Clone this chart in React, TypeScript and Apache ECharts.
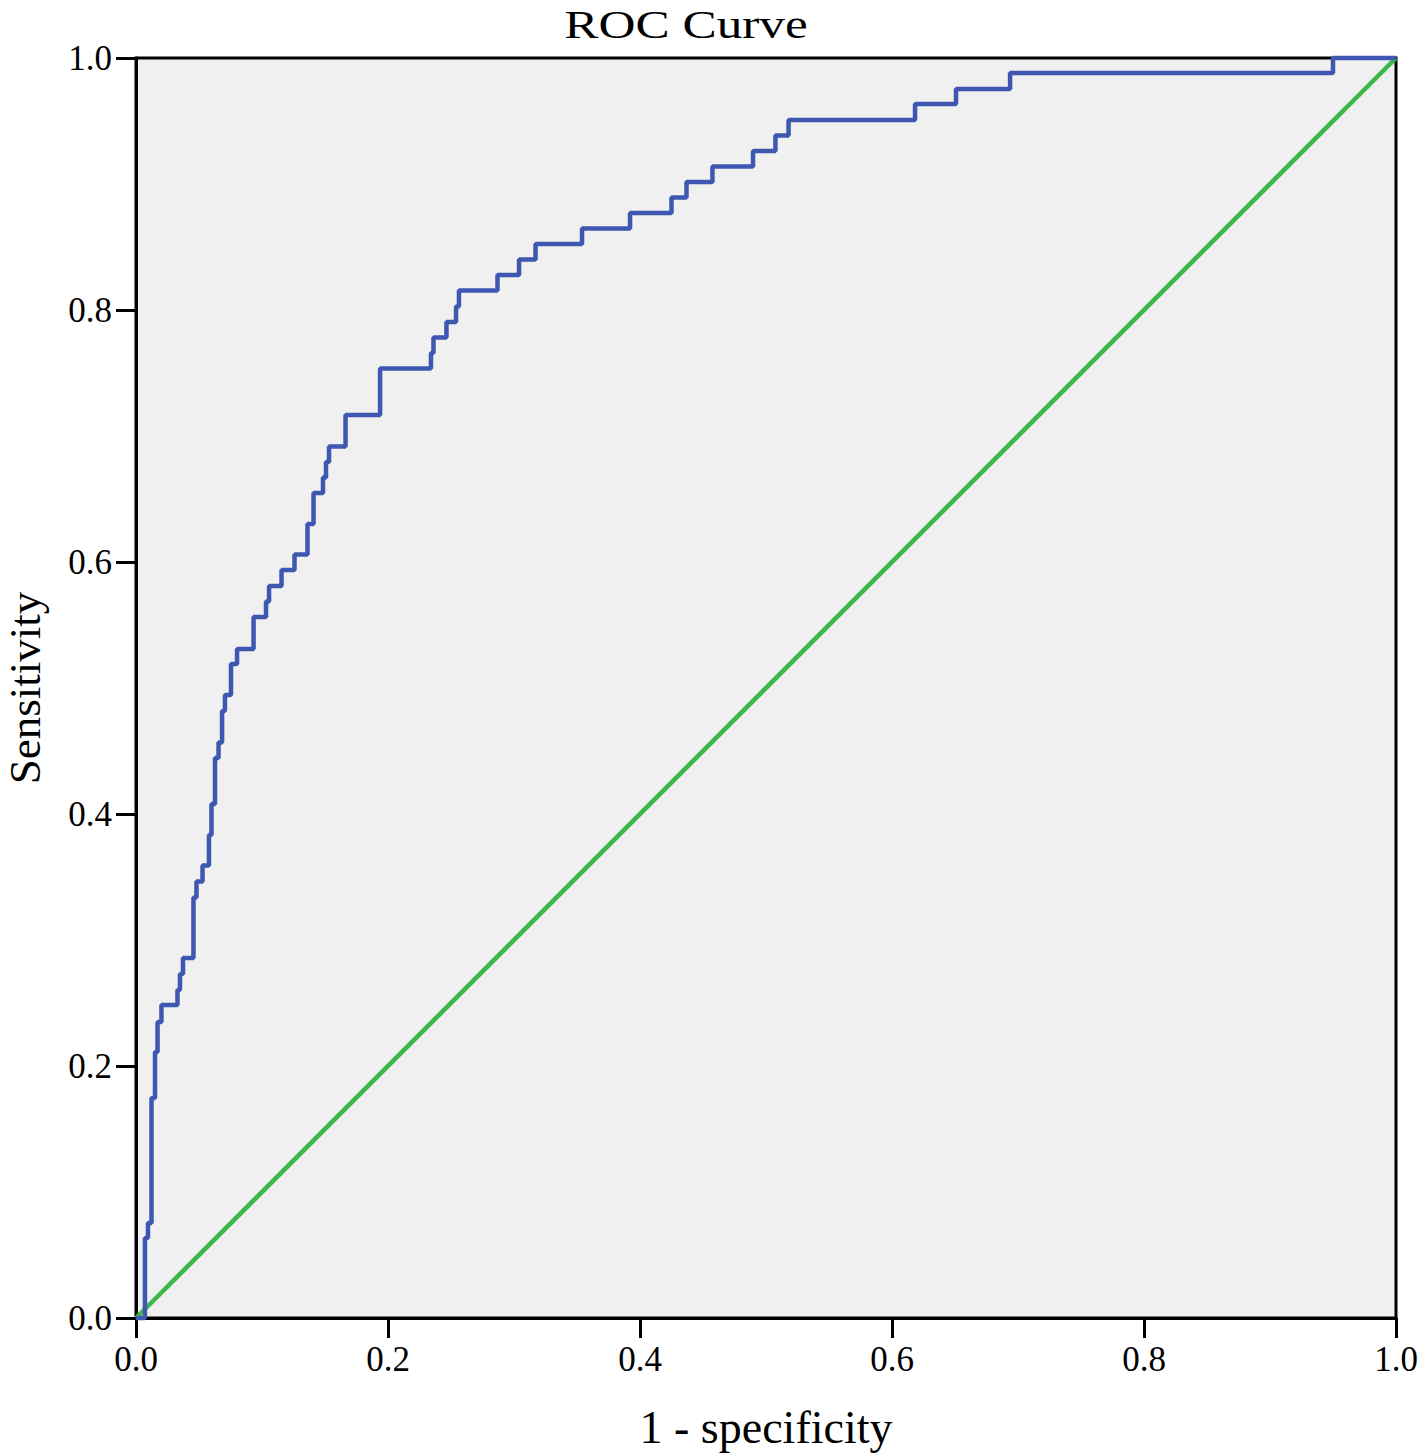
import React, { useEffect, useRef } from "react";
import * as echarts from "echarts";

// ROC curve step corners: x = 1 - specificity where the curve rises, y = sensitivity after the rise
const fprSteps = [
  0.0071, 0.0095, 0.0123, 0.0151, 0.0171, 0.0202, 0.0329, 0.0349, 0.0373, 0.0456,
  0.048, 0.0528, 0.0579, 0.0599, 0.0627, 0.0655, 0.0683, 0.0706, 0.0754, 0.0802,
  0.0933, 0.1032, 0.1056, 0.1155, 0.1258, 0.1361, 0.1409, 0.1484, 0.1508, 0.1532,
  0.1663, 0.1937, 0.2341, 0.2361, 0.2464, 0.254, 0.2563, 0.2869, 0.304, 0.3171,
  0.354, 0.3921, 0.425, 0.4369, 0.4575, 0.4897, 0.5075, 0.5179, 0.6183, 0.6508,
  0.6937, 0.95,
];
const tprSteps = [
  0.0635, 0.0754, 0.1746, 0.2111, 0.2349, 0.2484, 0.2603, 0.273, 0.2857, 0.3337,
  0.3464, 0.3591, 0.3833, 0.4079, 0.4444, 0.4567, 0.4817, 0.4944, 0.519, 0.531,
  0.5563, 0.5687, 0.581, 0.5937, 0.606, 0.6302, 0.6548, 0.6671, 0.6794, 0.6917,
  0.7167, 0.7536, 0.7659, 0.7782, 0.7905, 0.8028, 0.8155, 0.8278, 0.8401, 0.8524,
  0.8647, 0.877, 0.8893, 0.9016, 0.9139, 0.9262, 0.9385, 0.9508, 0.9635, 0.9754,
  0.9881, 1.0,
];
const referenceX = [0, 1];
const referenceY = [0, 1];

const chartTitle = "ROC Curve";
const xName = "1 - specificity";
const yName = "Sensitivity";

const FONT = '"Liberation Serif", "Times New Roman", serif';

export default function App() {
  const ref = useRef<HTMLDivElement>(null);

  useEffect(() => {
    if (!ref.current) return;
    const chart = echarts.init(ref.current, null, { renderer: "svg" });

    const rocData: number[][] = [[0, 0]];
    fprSteps.forEach((x, i) => rocData.push([x, tprSteps[i]]));
    rocData.push([1, 1]);
    const refData = referenceX.map((x, i) => [x, referenceY[i]]);

    const axisCommon = {
      type: "value" as const,
      min: 0,
      max: 1,
      interval: 0.2,
      nameLocation: "middle" as const,
      axisLine: { show: true, onZero: false, lineStyle: { color: "#000", width: 3 } },
      axisTick: { show: true, inside: false, length: 20, lineStyle: { color: "#000", width: 3 } },
      splitLine: { show: false },
      axisLabel: {
        fontFamily: FONT,
        fontSize: 35,
        color: "#000",
        margin: 24,
        formatter: (v: number) => v.toFixed(1),
        showMinLabel: true,
        showMaxLabel: true,
      },
    };

    chart.setOption({
      animation: false,
      backgroundColor: "#ffffff",
      graphic: [
        {
          type: "text",
          x: 686,
          y: 24,
          scaleX: 1.25,
          style: {
            text: chartTitle,
            font: `41px ${FONT}`,
            fill: "#000",
            textAlign: "center",
            textVerticalAlign: "middle",
          },
        },
      ],
      grid: {
        left: 136,
        top: 58,
        width: 1260,
        height: 1260,
        containLabel: false,
        outerBoundsMode: "none",
        show: true,
        backgroundColor: "#f0f0f0",
        borderColor: "#000",
        borderWidth: 3,
      },
      xAxis: {
        ...axisCommon,
        name: xName,
        nameGap: 86,
        nameTextStyle: { fontFamily: FONT, fontSize: 46, color: "#000" },
      },
      yAxis: {
        ...axisCommon,
        name: yName,
        nameGap: 89,
        nameRotate: 90,
        nameTextStyle: { fontFamily: FONT, fontSize: 45, color: "#000" },
      },
      series: [
        {
          type: "line",
          name: "Reference",
          data: refData,
          showSymbol: false,
          symbol: "none",
          lineStyle: { color: "#3cb849", width: 4.5 },
          z: 2,
        },
        {
          type: "line",
          name: "ROC",
          data: rocData,
          step: "end",
          showSymbol: false,
          symbol: "none",
          clip: false,
          lineStyle: { color: "#3e57b1", width: 4.5 },
          z: 3,
        },
      ],
    });

    return () => chart.dispose();
  }, []);

  return (
    <div
      ref={ref}
      style={{ position: "absolute", left: 0, top: 0, width: 1418, height: 1454 }}
    />
  );
}
